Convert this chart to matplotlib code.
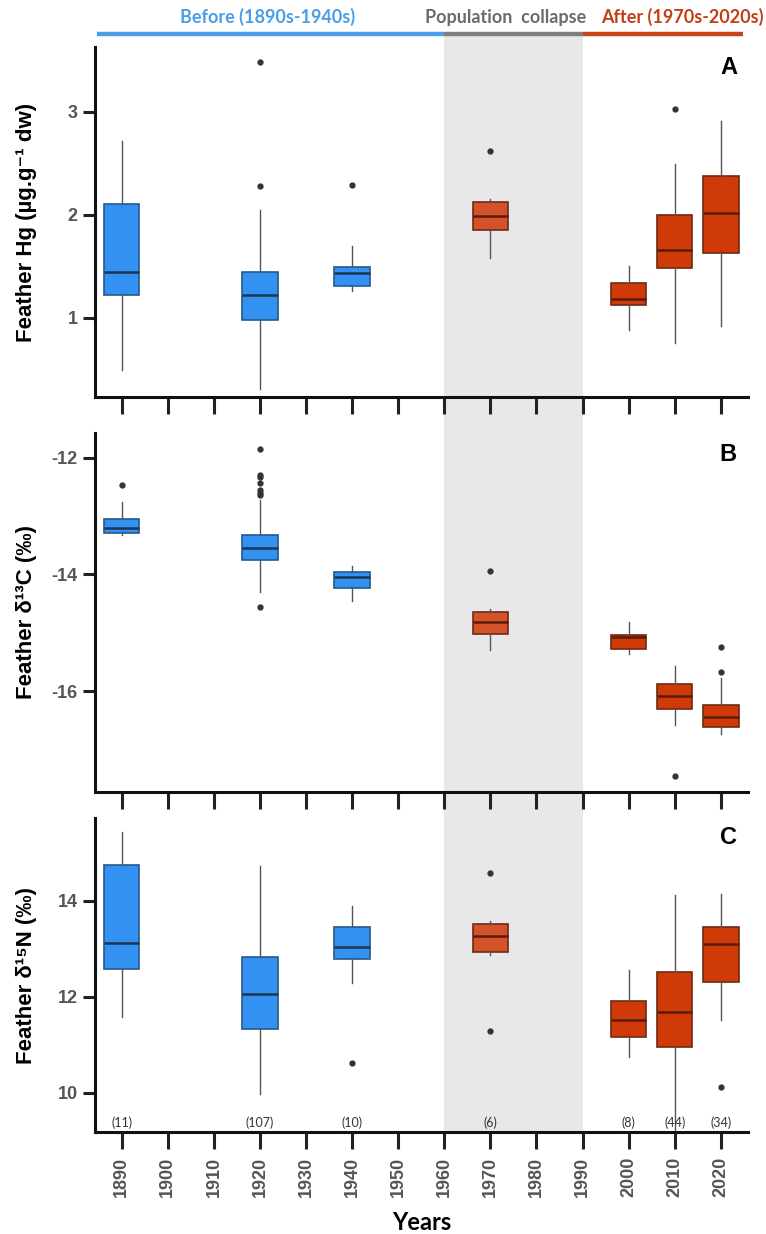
import numpy as np
import matplotlib.pyplot as plt
from matplotlib.patches import Rectangle
from matplotlib.lines import Line2D
from matplotlib.transforms import blended_transform_factory

plt.rcParams['axes.unicode_minus'] = False

# decades sampled and sample sizes
years = [1890, 1920, 1940, 1970, 2000, 2010, 2020]
n_samples = [11, 107, 10, 6, 8, 44, 34]
xticks = list(range(1890, 2021, 10))

# Panel A: feather Hg (ug/g dw)
hg_med = [1.44, 1.22, 1.43, 1.99, 1.18, 1.66, 2.02]
hg_q1 = [1.22, 0.98, 1.31, 1.85, 1.12, 1.48, 1.63]
hg_q3 = [2.10, 1.44, 1.49, 2.12, 1.34, 2.00, 2.38]
hg_lo = [0.49, 0.31, 1.26, 1.58, 0.88, 0.75, 0.92]
hg_hi = [2.72, 2.05, 1.70, 2.15, 1.50, 2.49, 2.91]
hg_out = [[], [3.48, 2.28], [2.29], [2.62], [], [3.03], []]

# Panel B: feather d13C (permil)
c_med = [-13.21, -13.54, -14.05, -14.82, -15.07, -16.09, -16.44]
c_q1 = [-13.29, -13.76, -14.24, -15.02, -15.27, -16.31, -16.61]
c_q3 = [-13.05, -13.32, -13.96, -14.65, -15.03, -15.88, -16.23]
c_lo = [-13.32, -14.31, -14.46, -15.30, -15.36, -16.58, -16.74]
c_hi = [-12.76, -12.73, -13.86, -14.60, -14.81, -15.57, -15.78]
c_out = [[-12.47],
         [-11.86, -12.30, -12.34, -12.43, -12.56, -12.60, -12.64, -14.55],
         [], [-13.95], [], [-17.45], [-15.24, -15.67]]

# Panel C: feather d15N (permil)
n_med = [13.13, 12.05, 13.04, 13.27, 11.51, 11.68, 13.11]
n_q1 = [12.58, 11.33, 12.78, 12.94, 11.16, 10.96, 12.31]
n_q3 = [14.74, 12.84, 13.45, 13.52, 11.92, 12.52, 13.46]
n_lo = [11.57, 9.97, 12.28, 12.88, 10.75, 9.20, 11.51]
n_hi = [15.44, 14.72, 13.90, 13.58, 12.56, 14.13, 14.15]
n_out = [[], [], [10.62], [14.58, 11.28], [], [], [10.13]]

blue = '#3391f2'
mid = '#d4522a'
red = '#d03a08'
box_colors = [blue, blue, blue, mid, red, red, red]
edge_colors = ['#24598c'] * 3 + ['#6e2a14'] * 4
med_colors = ['#1c3550'] * 3 + ['#5a1c08'] * 4

fig = plt.figure(figsize=(7.66, 12.34), dpi=100)
W, H = 766.0, 1234.0
left, right = 95 / W, 748 / W
panels = [(47, 397), (433, 791.7), (818.3, 1131.7)]
axes = []
for top, bot in panels:
    ax = fig.add_axes([left, 1 - bot / H, right - left, (bot - top) / H])
    ax.set_facecolor('none')
    axes.append(ax)

data = [
    (hg_med, hg_q1, hg_q3, hg_lo, hg_hi, hg_out, (0.23, 3.63), [1, 2, 3],
     'Feather Hg (µg.g\u207b\u00b9 dw)', 'A'),
    (c_med, c_q1, c_q3, c_lo, c_hi, c_out, (-17.72, -11.58), [-16, -14, -12],
     'Feather δ\u00b9\u00b3C (‰)', 'B'),
    (n_med, n_q1, n_q3, n_lo, n_hi, n_out, (9.19, 15.72), [10, 12, 14],
     'Feather δ\u00b9\u2075N (‰)', 'C'),
]

for ax, (med, q1, q3, lo, hi, out, ylim, yt, ylab, letter) in zip(axes, data):
    stats = []
    for i in range(len(years)):
        stats.append(dict(med=med[i], q1=q1[i], q3=q3[i], whislo=lo[i],
                          whishi=hi[i], fliers=out[i]))
    bp = ax.bxp(stats, positions=years, widths=7.7, patch_artist=True,
                showcaps=False,
                whiskerprops=dict(color='#555555', linewidth=1.0),
                flierprops=dict(marker='o', markersize=3.5,
                                markerfacecolor='#333333',
                                markeredgecolor='#333333'),
                medianprops=dict(linewidth=1.8))
    for i, b in enumerate(bp['boxes']):
        b.set_facecolor(box_colors[i])
        b.set_edgecolor(edge_colors[i])
        b.set_linewidth(1.2)
        bp['medians'][i].set_color(med_colors[i])
    ax.set_xlim(1884.2, 2025.9)
    ax.set_ylim(*ylim)
    ax.set_yticks(yt)
    ax.set_xticks(xticks)
    ax.set_xticklabels([str(y) for y in xticks], rotation=90)
    for s in ['top', 'right']:
        ax.spines[s].set_visible(False)
    for s in ['left', 'bottom']:
        ax.spines[s].set_linewidth(2.2)
        ax.spines[s].set_color('#111111')
    ax.tick_params(axis='x', length=12, width=2.2, color='#222222',
                   labelsize=13, labelcolor='#555555', pad=6)
    ax.tick_params(axis='y', length=9, width=2.2, color='#222222',
                   labelsize=13, labelcolor='#555555')
    for lab in ax.get_xticklabels() + ax.get_yticklabels():
        lab.set_fontweight('bold')
        lab.set_family('Liberation Sans')
    ax.set_ylabel(ylab, fontsize=16, fontweight='bold',
                  family=['Liberation Sans', 'DejaVu Sans'])
    ax.yaxis.set_label_coords(-0.089, 0.5)
    ax.text(0.97, 0.94, letter, transform=ax.transAxes, fontsize=17,
            fontweight='bold', family='Liberation Sans', ha='center', va='center')

axes[0].tick_params(axis='x', labelbottom=False)
axes[1].tick_params(axis='x', labelbottom=False)

# sample sizes
axn = axes[2]
tn = blended_transform_factory(axn.transData, axn.transAxes)
for y, n in zip(years, n_samples):
    axn.text(y, 0.028, '(%d)' % n, transform=tn, ha='center', va='center',
             fontsize=9, color='#333333', family='Lato')

axn.set_xlabel('Years', fontsize=17, fontweight='bold', family='Lato',
               labelpad=10)

# population-collapse shading across all panels
tf = blended_transform_factory(axn.transData, fig.transFigure)
ybot = 1 - 1131.7 / H
ytop = 1 - 36 / H
fig.add_artist(Rectangle((1960, ybot), 30, ytop - ybot, transform=tf,
                         facecolor='#e8e7e9', edgecolor='none', zorder=-1))

# period bar on top
yline = 1 - 34 / H
periods = [(1884.6, 1960, '#4a9de6'), (1960, 1990, '#7f7f7f'),
           (1990, 2024.8, '#c8421a')]
for x0, x1, c in periods:
    fig.add_artist(Line2D([x0, x1], [yline, yline], transform=tf, color=c,
                          linewidth=3.2, solid_capstyle='butt'))

ytxt = 1 - 17 / H
fig.text(1921.7, ytxt, 'Before (1890s-1940s)', transform=tf, ha='center',
         va='center', fontsize=13, fontweight='bold', color='#4a9de6',
         family='Lato')
fig.text(1973.4, ytxt, 'Population  collapse', transform=tf, ha='center',
         va='center', fontsize=13, fontweight='bold', color='#6b6b6b',
         family='Lato')
fig.text(2011.6, ytxt, 'After (1970s-2020s)', transform=tf, ha='center',
         va='center', fontsize=13, fontweight='bold', color='#c23e14',
         family='Lato')

fig.savefig('out.png', dpi=100)
